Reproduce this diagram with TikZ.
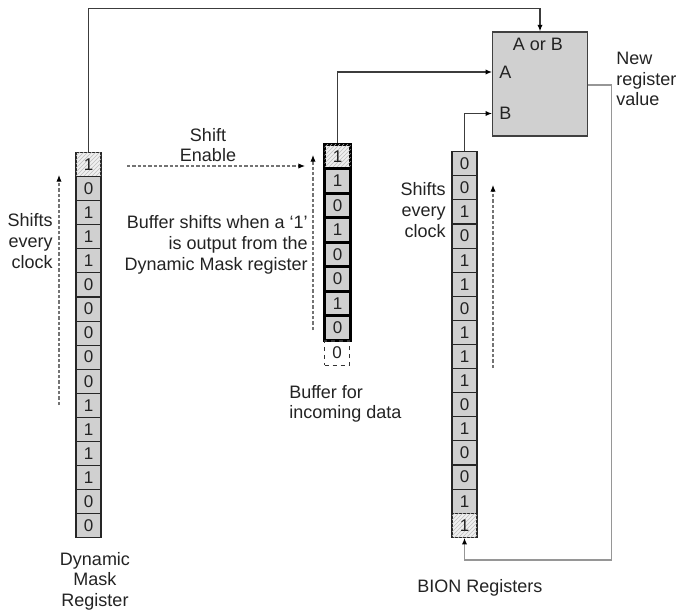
\documentclass[tikz,border=0pt]{standalone}
\usepackage{fontspec}
\setmainfont{Liberation Sans}
\usetikzlibrary{arrows.meta,patterns}
\definecolor{cellgray}{RGB}{208,208,208}
\definecolor{wiregray}{RGB}{60,60,60}
\definecolor{retgray}{RGB}{150,150,150}
\definecolor{textgray}{RGB}{35,35,35}

\tikzset{
  cell/.style={draw=black!85,fill=cellgray,line width=0.8pt,inner sep=0pt,
    minimum width=18.75pt,minimum height=18.05pt,text=textgray,
    font=\fontsize{12.75}{14}\selectfont},
  hatch/.style={cell,fill=white!94!black,
    postaction={pattern=north east lines,pattern color=black!25}},
  bufcell/.style={cell,line width=2.4pt,draw=black,minimum width=19.5pt,minimum height=18.4pt},
  bufhatch/.style={bufcell,fill=white!94!black,
    postaction={pattern=north east lines,pattern color=black!25}},
  wire/.style={draw=wiregray,line width=1.1pt,-{Latex[length=5pt,width=4pt,color=black]}},
  retwire/.style={wire,draw=retgray},
  dasharrow/.style={draw=black!55,line width=0.8pt,dash pattern=on 2.5pt off 1.5pt,
    -{Latex[length=5pt,width=4pt,color=black]}},
  label/.style={inner sep=0pt,text=textgray}
}

\begin{document}
\begin{tikzpicture}[x=0.75pt,y=-0.75pt,
  every node/.style={font=\fontsize{13.5}{15.5}\selectfont}]
  \fill[white] (0,0) rectangle (678,612);
  \useasboundingbox (0,0) rectangle (678,612);

  \foreach \v [count=\i] in {1,0,1,1,1,0,0,0,0,0,1,1,1,1,0,0} {
    \ifnum\i=1 \def\sty{hatch}\else\def\sty{cell}\fi
    \node[\sty] (dm\i) at (88.5,{152.7+(\i-0.5)*24.05}) {\v};
  }
  \foreach \v [count=\i] in {1,1,0,1,0,0,1,0} {
    \ifnum\i=1 \def\sty{bufhatch}\else\def\sty{bufcell}\fi
    \node[\sty] (bf\i) at (337.5,{144.3+(\i-0.5)*24.5}) {\v};
  }
  \node[cell,fill=none,dashed,draw=black!80] (bfin) at (337,353) {0};
  \foreach \v [count=\i] in {0,0,1,0,1,1,0,1,1,1,0,1,0,0,1,1} {
    \ifnum\i=16 \def\sty{hatch}\else\def\sty{cell}\fi
    \node[\sty] (bn\i) at (464.5,{151.7+(\i-0.5)*24.1}) {\v};
  }

  \node[draw=black!75,fill=cellgray,line width=0.8pt,inner sep=0pt,
    minimum width=70.95pt,minimum height=78pt] (mux) at (540,84) {};
  \node[label] (aorb) at (538,44) {A or B};
  \node[label,anchor=west] (lbla) at (499,72) {A};
  \node[label,anchor=west] (lblb) at (499,113.5) {B};

  \coordinate (top) at (0,8.3);
  \coordinate (outy) at (0,85);
  \coordinate (ret) at (611.7,560);
  \draw[wire] (dm1.north) -- (dm1.north |- top) -| (mux.north);
  \draw[wire] (bf1.north) |- (mux.west |- lbla);
  \draw[wire] (bn1.north) |- (mux.west |- lblb);
  \draw[retwire] (mux.east |- outy) -| (ret) -| (bn16.south);

  \coordinate (lsa) at (59,405);
  \coordinate (lsb) at (59,175);
  \coordinate (sea) at (127,166);
  \coordinate (seb) at (305,166);
  \coordinate (bsa) at (313,330);
  \coordinate (bsb) at (313,155);
  \coordinate (rsa) at (493,368);
  \coordinate (rsb) at (493,185);
  \draw[dasharrow] (lsa) -- (lsb);
  \draw[dasharrow] (sea) -- (seb);
  \draw[dasharrow] (bsa) -- (bsb);
  \draw[dasharrow] (rsa) -- (rsb);

  \node[label,anchor=east,align=right] (lshift) at (53,241) {Shifts\\every\\clock};
  \node[label,anchor=east,align=right] (rshift) at (446,210) {Shifts\\every\\clock};
  \node[label,align=center] (shen) at (208,145) {Shift\\Enable};
  \node[label,anchor=east,align=right] (bufnote) at (308,245)
    {Buffer shifts when a `1'\\is output from the\\Dynamic Mask register};
  \node[label,anchor=west,align=left] (bufin) at (289,404) {Buffer for\\incoming data};
  \node[label,align=center] (dmname) at (95,581) {Dynamic\\Mask\\Register};
  \node[label,anchor=west] (bnname) at (417,588) {BION Registers};
  \node[label,anchor=west,align=left] (newval) at (616,79) {New\\register\\value};
\end{tikzpicture}
\end{document}
